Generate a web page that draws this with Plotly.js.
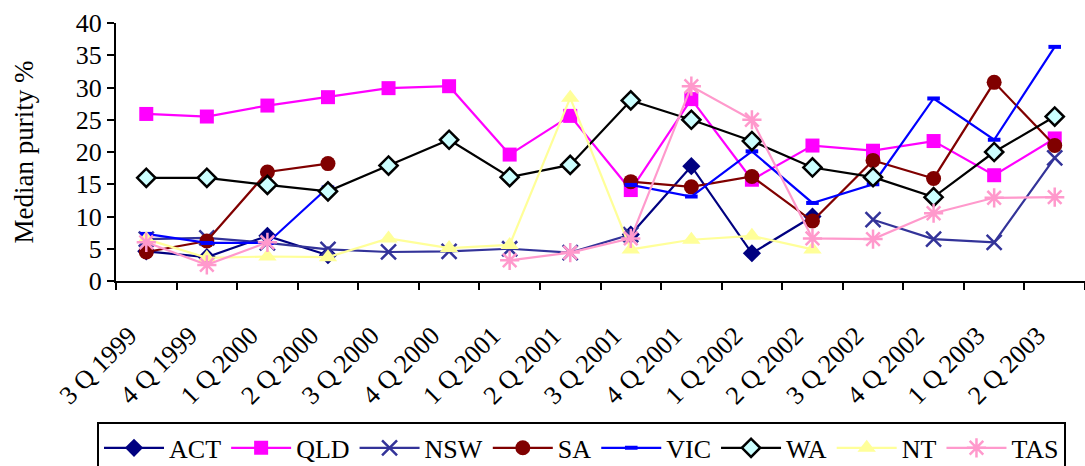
<!DOCTYPE html>
<html>
<head>
<meta charset="utf-8">
<script src="https://cdn.plot.ly/plotly-3.0.1.min.js"></script>
<style>
  html, body { margin: 0; padding: 0; background: #fff; }
  #chart { width: 1085px; height: 466px; }
</style>
</head>
<body>
<div id="chart"></div>
<script>
// Quarterly median purity (%) by jurisdiction
const quarters = ['3 Q 1999', '4 Q 1999', '1 Q 2000', '2 Q 2000', '3 Q 2000', '4 Q 2000',
                  '1 Q 2001', '2 Q 2001', '3 Q 2001', '4 Q 2001', '1 Q 2002', '2 Q 2002',
                  '3 Q 2002', '4 Q 2002', '1 Q 2003', '2 Q 2003'];

const act = [4.6, 3.7, 7.0, 4.0, null, null, null, null, 7.2, 17.8, 4.3, 10.0, null, null, null, null];
const qld = [25.9, 25.5, 27.2, 28.5, 29.9, 30.2, 19.6, 25.6, 14.1, 28.2, 15.7, 21.0, 20.2, 21.7, 16.4, 22.1];
const nsw = [6.5, 6.7, 5.9, 4.9, 4.5, 4.6, 5.0, 4.4, 7.2, null, null, null, 9.5, 6.5, 6.0, 19.1];
const sa  = [4.5, 6.2, 16.9, 18.2, null, null, null, null, 15.4, 14.6, 16.2, 9.3, 18.7, 15.9, 30.8, 21.0];
const vic = [7.3, 5.9, 5.9, 14.5, null, null, null, null, 14.9, 13.1, 20.1, 12.1, 15.0, 28.3, 21.9, 36.3];
const wa  = [16.0, 16.0, 14.9, 13.9, 17.9, 21.9, 16.1, 18.0, 28.0, 25.0, 21.7, 17.6, 16.1, 13.0, 20.0, 25.5];
const nt  = [6.5, 3.6, 3.8, 3.7, 6.6, 5.1, 5.6, 28.4, 4.9, 6.4, 7.0, 4.9, null, null, null, null];
const tas = [6.0, 2.5, 6.0, null, null, null, 3.2, 4.4, 6.6, 30.2, 25.0, 6.6, 6.5, 10.5, 12.9, 13.0];

function series(name, values, lineColor, marker) {
  return {
    type: 'scatter',
    mode: 'lines+markers',
    name: name,
    x: quarters,
    y: values,
    connectgaps: false,
    cliponaxis: false,
    line: { color: lineColor, width: 2.2 },
    marker: marker
  };
}

const traces = [
  series('ACT', act, '#000080', { symbol: 'diamond', size: 14, color: '#000080' }),
  series('QLD', qld, '#FF00FF', { symbol: 'square', size: 14, color: '#FF00FF' }),
  series('NSW', nsw, '#333399', { symbol: 'x-thin', size: 15, color: '#333399', line: { color: '#333399', width: 2.5 } }),
  series('SA',  sa,  '#800000', { symbol: 'circle', size: 15, color: '#800000' }),
  series('VIC', vic, '#0000FF', { symbol: 'line-ew', size: 9, color: '#0000FF', line: { color: '#0000FF', width: 4 } }),
  series('WA',  wa,  '#000000', { symbol: 'diamond', size: 14, color: '#CCFFFF', line: { color: '#000000', width: 2.5 } }),
  series('NT',  nt,  '#FFFF99', { symbol: 'triangle-up', size: 16, color: '#FFFF99' }),
  series('TAS', tas, '#FF99CC', { symbol: 'asterisk', size: 16, color: '#FF99CC', line: { color: '#FF99CC', width: 2.5 } })
];

const layout = {
  width: 1085,
  height: 466,
  margin: { l: 116, r: 0, t: 23, b: 185, autoexpand: false },
  paper_bgcolor: '#ffffff',
  plot_bgcolor: '#ffffff',
  font: { family: 'Liberation Serif, serif', size: 26, color: '#000' },
  showlegend: true,
  xaxis: {
    type: 'category',
    range: [-0.5, 15.5],
    automargin: false,
    tickangle: -45,
    ticks: 'outside',
    tickson: 'boundaries',
    ticklen: 7,
    tickwidth: 2,
    tickcolor: '#000',
    showline: true,
    linewidth: 2,
    linecolor: '#000',
    showgrid: false,
    zeroline: false,
    tickfont: { size: 26 },
    ticklabelstandoff: 27,
    ticklabelshift: -17
  },
  yaxis: {
    automargin: false,
    range: [0, 40],
    dtick: 5,
    ticks: 'outside',
    ticklen: 7,
    tickwidth: 2,
    tickcolor: '#000',
    showline: true,
    linewidth: 2,
    linecolor: '#000',
    showgrid: false,
    zeroline: false,
    tickfont: { size: 26 },
    title: { text: 'Median purity %', font: { size: 27 }, standoff: 34 }
  },
  legend: {
    orientation: 'h',
    x: -0.0196,
    xanchor: 'left',
    y: -0.548,
    yanchor: 'top',
    bgcolor: '#ffffff',
    bordercolor: '#000',
    borderwidth: 2,
    font: { size: 26 },
    traceorder: 'normal',
    itemwidth: 60
  }
};

Plotly.newPlot('chart', traces, layout, { displayModeBar: false, staticPlot: true });
</script>
</body>
</html>
